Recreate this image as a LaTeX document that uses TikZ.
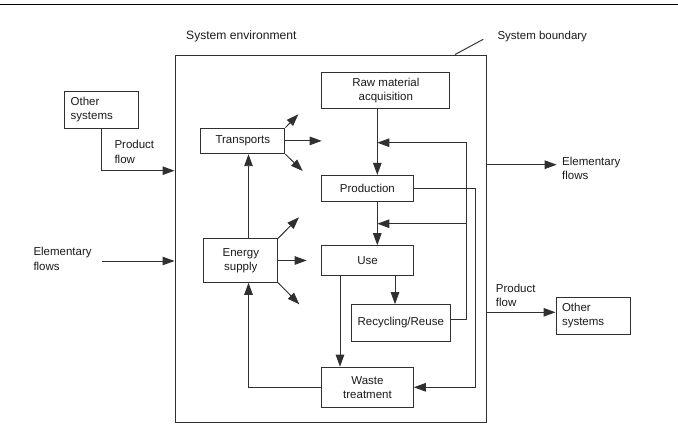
\documentclass[tikz,border=0pt]{standalone}
\usepackage{fontspec}
\setmainfont{Liberation Sans}
\usetikzlibrary{arrows.meta}
\definecolor{ln}{HTML}{303030}
\definecolor{tx}{HTML}{1A1A1A}
\begin{document}
\begin{tikzpicture}[x=1pt,y=-1pt,
  txt/.style={text=tx,font=\fontsize{11.5}{14.3}\selectfont},
  box/.style={txt,draw=ln,line width=0.95pt,inner sep=0pt,align=center},
  obox/.style={txt,draw=ln,line width=0.95pt,inner ysep=0pt,inner xsep=6pt,align=left},
  lbl/.style={txt,inner sep=0pt,align=left},
  ln/.style={draw=ln,line width=0.95pt},
  arr/.style={ln,-{Triangle[length=12pt,width=8.5pt]}}]
\useasboundingbox (0,0) rectangle (678,427);
% top rule
\draw[black,line width=1.3pt] (0,4.5) -- (678,4.5);
% system boundary
\node[draw=ln,line width=0.95pt,inner sep=0pt,minimum width=311.7pt,minimum height=367.3pt] (sys) at (330.85,238.65) {};
\node[lbl,anchor=base west,font=\fontsize{12.1}{14.3}\selectfont] (envl) at (186,39.5) {System environment};
\node[lbl,anchor=base west] (bndl) at (497.3,39.5) {System boundary};
\coordinate (ldr) at (483.3,39.3);
\draw[ln] (sys.north -| 455,0) -- (ldr);
% process boxes
\node[box,minimum width=128.3pt,minimum height=36.3pt] (raw) at (385.8,90.8) {Raw material\\acquisition};
\node[box,minimum width=84.3pt,minimum height=25.7pt] (trans) at (242.8,140.9) {Transports};
\node[box,minimum width=91.3pt,minimum height=25.7pt] (prod) at (367.4,188.2) {Production};
\node[box,minimum width=91.6pt,minimum height=29.6pt] (use) at (367.5,260.5) {Use};
\node[box,minimum width=73.7pt,minimum height=43.6pt] (energy) at (240.8,260.5) {Energy\\supply};
\node[box,minimum width=99pt,minimum height=36.6pt] (rec) at (400.8,323) {Recycling/Reuse};
\node[box,minimum width=91.6pt,minimum height=40.3pt] (waste) at (367.5,387.3) {Waste\\treatment};
% other systems
\node[obox,text width=61.6pt,minimum height=37.3pt] (oth1) at (101.5,109.7) {Other\\systems};
\node[obox,text width=62pt,minimum height=37pt] (oth2) at (593,315.5) {Other\\systems};
% labels
\node[lbl,anchor=west] (pfl) at (114.3,151.8) {Product\\flow};
\node[lbl,anchor=west] (efl) at (33.3,258.9) {Elementary\\flows};
\node[lbl,anchor=west] (efr) at (562,168.2) {Elementary\\flows};
\node[lbl,anchor=west] (pfr) at (495.7,295.3) {Product\\flow};
% junction coordinates
\coordinate (jA) at (377.3,142.7);
\coordinate (jB) at (377.3,223.7);
\coordinate (rR) at (466.7,0);
\coordinate (pR) at (475.3,0);
\coordinate (eX) at (248.5,0);
\coordinate (uW) at (340,0);
\coordinate (uR) at (395,0);
% main chain
\draw[arr] (raw.south -| jA) -- (prod.north -| jA);
\draw[arr] (prod.south -| jA) -- (use.north -| jA);
\draw[arr] (rec.east |- 0,319.3) -| (rR |- jA) -- (jA);
\draw[arr] (rR |- jB) -- (jB);
\draw[arr] (prod.east) -| (pR |- waste.east) -- (waste.east);
\draw[arr] (use.south -| uR) -- (rec.north -| uR);
\draw[arr] (use.south -| uW) -- (waste.north -| uW);
\draw[arr] (waste.west) -| (energy.south -| eX);
\draw[arr] (energy.north -| eX) -- (trans.south -| eX);
% emissions from transports and energy supply
\coordinate (t1) at (298.3,114.3);
\coordinate (t2) at (321.7,140.9);
\coordinate (t3) at (302.7,171);
\coordinate (e1) at (299,217.3);
\coordinate (e2) at (306.7,260.5);
\coordinate (e3) at (299.3,304.3);
\draw[arr] (trans.north east) -- (t1);
\draw[arr] (trans.east) -- (t2);
\draw[arr] (trans.south east) -- (t3);
\draw[arr] (energy.north east) -- (e1);
\draw[arr] (energy.east) -- (e2);
\draw[arr] (energy.south east) -- (e3);
% flows across the boundary
\coordinate (elL) at (101.7,261);
\coordinate (elR) at (556.7,164.7);
\draw[arr] (oth1.south) |- (sys.west |- 0,170.7);
\draw[arr] (elL) -- (sys.west |- elL);
\draw[arr] (sys.east |- elR) -- (elR);
\draw[arr] (sys.east |- 0,312.3) -- (oth2.west |- 0,312.3);
\end{tikzpicture}
\end{document}
